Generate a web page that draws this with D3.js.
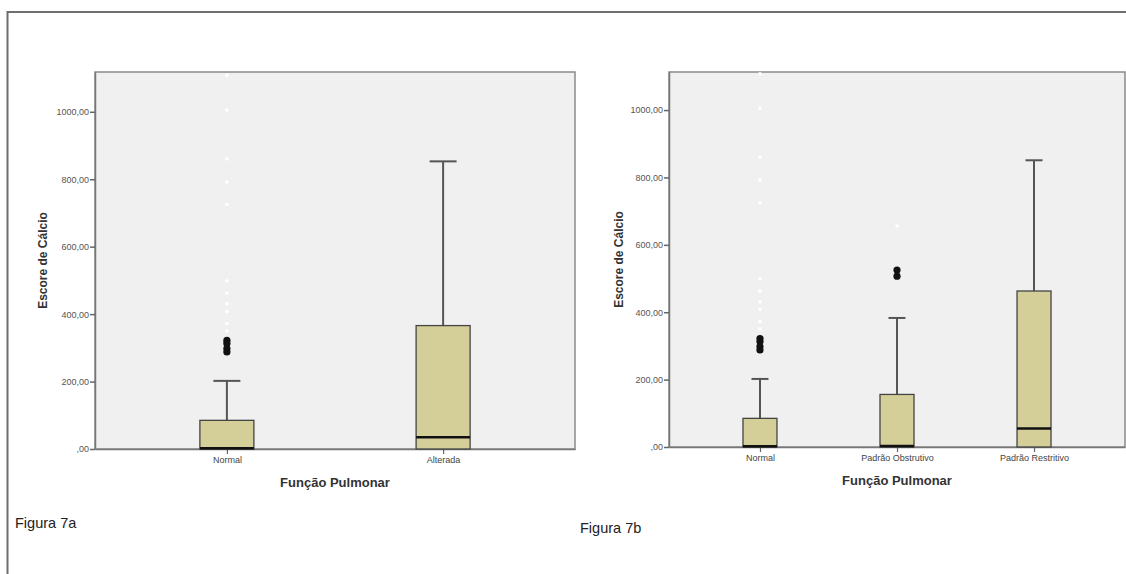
<!DOCTYPE html>
<html><head><meta charset="utf-8">
<script src="https://cdn.jsdelivr.net/npm/d3@7"></script>
<style>
body{margin:0;background:#fff;}
svg{display:block;font-family:"Liberation Sans",Arial,sans-serif;}
</style></head><body>
<svg id="c" width="1126" height="574"></svg>
<script>
// ---- data ----
const yTicks = [0, 200, 400, 600, 800, 1000];
const catsA = ["Normal", "Alterada"];
const q1A = [0, 0];
const medA = [2, 35];
const q3A = [85, 366];
const whiskHiA = [202, 853];
const outliersA = [[322, 313, 298, 288], []];
const extremesA = [[1108, 1005, 860, 792, 725, 499, 462, 431, 408, 372, 350], []];

const catsB = ["Normal", "Padrão Obstrutivo", "Padrão Restritivo"];
const q1B = [0, 0, 0];
const medB = [2, 3, 55];
const q3B = [85, 156, 463];
const whiskHiB = [202, 383, 851];
const outliersB = [[322, 313, 298, 288], [525, 507], []];
const extremesB = [[1108, 1005, 860, 792, 725, 499, 462, 431, 408, 372, 350], [656], []];

const yTitle = "Escore de Cálcio";
const xTitle = "Função Pulmonar";
const captions = ["Figura 7a", "Figura 7b"];

const svg = d3.select("#c");

// outer frame (top & left)
svg.append("path").attr("d", "M7.5,574 V12 H1126")
  .attr("fill", "none").attr("stroke", "#6e6e6e").attr("stroke-width", 2);

const fmt = v => v === 0 ? ",00" : v.toFixed(2).replace(".", ",");

function panel(cfg) {
  const {x0, x1, yTop, yBot, yMax, pad, boxW, cats, q1, med, q3, hi, outl, ext, titleX} = cfg;
  const g = svg.append("g");
  const y = d3.scaleLinear().domain([0, yMax]).range([yBot, yTop]);
  const x = d3.scalePoint().domain(cats).range([x0, x1]).padding(pad);

  g.append("rect").attr("x", x0).attr("y", yTop).attr("width", x1 - x0).attr("height", yBot - yTop)
    .attr("fill", "#f0f0f0").attr("stroke", "#8a8a8a").attr("stroke-width", 1.5);

  // y axis
  const ya = g.append("g").attr("transform", `translate(${x0},0)`)
    .call(d3.axisLeft(y).tickValues(yTicks).tickFormat(fmt).tickSizeInner(5).tickSizeOuter(0).tickPadding(1));
  ya.select(".domain").attr("stroke", "#777").attr("stroke-width", 1.5);
  ya.selectAll(".tick line").attr("stroke", "#666").attr("stroke-width", 1.5);
  ya.selectAll("text").attr("fill", "#555").style("font-size", "9px")
    .style("font-family", "'Liberation Sans',Arial,sans-serif");

  // x axis
  const xa = g.append("g").attr("transform", `translate(0,${yBot})`)
    .call(d3.axisBottom(x).tickSizeInner(5).tickSizeOuter(0).tickPadding(3));
  xa.select(".domain").attr("stroke", "#777").attr("stroke-width", 1.5);
  xa.selectAll(".tick line").attr("stroke", "#666").attr("stroke-width", 1.2);
  xa.selectAll("text").attr("fill", "#444").style("font-size", "9px")
    .style("font-family", "'Liberation Sans',Arial,sans-serif");

  cats.forEach((c, i) => {
    const cx = x(c);
    // whisker
    g.append("line").attr("x1", cx).attr("x2", cx).attr("y1", y(q3[i])).attr("y2", y(hi[i]))
      .attr("stroke", "#555").attr("stroke-width", 2);
    g.append("line").attr("x1", cx - boxW / 4).attr("x2", cx + boxW / 4).attr("y1", y(hi[i])).attr("y2", y(hi[i]))
      .attr("stroke", "#555").attr("stroke-width", 2);
    // box
    g.append("rect").attr("x", cx - boxW / 2).attr("y", y(q3[i])).attr("width", boxW)
      .attr("height", y(q1[i]) - y(q3[i]))
      .attr("fill", "#d4cf98").attr("stroke", "#444").attr("stroke-width", 1.3);
    // median
    g.append("line").attr("x1", cx - boxW / 2).attr("x2", cx + boxW / 2).attr("y1", y(med[i])).attr("y2", y(med[i]))
      .attr("stroke", "#111").attr("stroke-width", 2.5);
    // outliers
    outl[i].forEach(v => g.append("circle").attr("cx", cx).attr("cy", y(v)).attr("r", 3.6).attr("fill", "#111"));
    ext[i].forEach(v => g.append("circle").attr("cx", cx).attr("cy", y(v)).attr("r", 1.8).attr("fill", "#fff"));
  });

  // titles
  g.append("text").attr("transform", `translate(${titleX},${(yTop + yBot) / 2}) rotate(-90)`)
    .attr("text-anchor", "middle").attr("dominant-baseline", "central")
    .attr("font-weight", "bold").attr("font-size", 12).attr("fill", "#333").text(yTitle);
  g.append("text").attr("x", (x0 + x1) / 2).attr("y", yBot + 38)
    .attr("text-anchor", "middle").attr("font-weight", "bold").attr("font-size", 13)
    .attr("fill", "#333").text(xTitle);
}

panel({x0: 95, x1: 575, yTop: 72, yBot: 449, yMax: 1118, pad: 0.61, boxW: 54,
  cats: catsA, q1: q1A, med: medA, q3: q3A, hi: whiskHiA, outl: outliersA, ext: extremesA, titleX: 43});
panel({x0: 669, x1: 1125, yTop: 72, yBot: 447, yMax: 1113, pad: 0.664, boxW: 34,
  cats: catsB, q1: q1B, med: medB, q3: q3B, hi: whiskHiB, outl: outliersB, ext: extremesB, titleX: 619});

svg.append("text").attr("x", 15).attr("y", 528).attr("font-size", 14.5).attr("fill", "#222").text(captions[0]);
svg.append("text").attr("x", 580).attr("y", 533).attr("font-size", 14.5).attr("fill", "#222").text(captions[1]);
</script>
</body></html>
